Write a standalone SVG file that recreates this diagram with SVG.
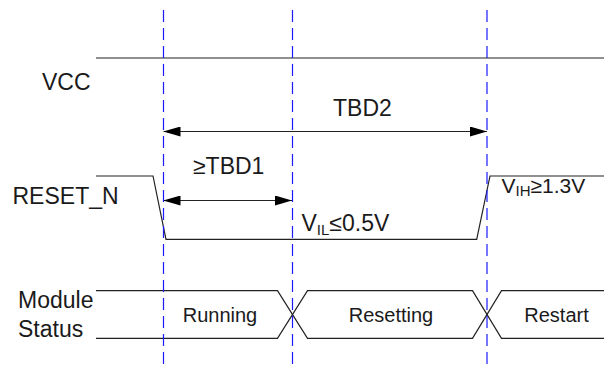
<svg xmlns="http://www.w3.org/2000/svg" width="604" height="367" viewBox="0 0 604 367">
<style>
.t{font-family:"Liberation Sans",Arial,sans-serif;font-size:23px;fill:#1a1a1a}
.s{font-size:20px}
.sub{font-size:15px}
.w{fill:none;stroke:#222;stroke-width:1.2}
.g{stroke:#1a1aff;stroke-width:1.2;stroke-dasharray:12 6;fill:none}
.a{stroke:#222;stroke-width:1.2;fill:none;marker-start:url(#ah);marker-end:url(#ah)}
</style>
<defs>
<marker id="ah" viewBox="0 0 17 10" refX="17" refY="5" markerWidth="17" markerHeight="10" markerUnits="userSpaceOnUse" orient="auto-start-reverse">
<path d="M0,0 L17,5 L0,10 Z" fill="#000"/>
</marker>
</defs>
<g id="vcc">
<line class="w" x1="96" y1="58" x2="604" y2="58" stroke="#555"/>
<text class="t" x="42" y="90">VCC</text>
</g>
<g id="reset_n">
<polyline class="w" points="96,176 153,176 166,239.3 476.7,239.3 490,176 604,176"/>
<text class="t" x="12.5" y="204">RESET_N</text>
<text class="t" x="301.5" y="231">V<tspan class="sub" dy="4">IL</tspan><tspan dy="-4">≤0.5V</tspan></text>
<text class="t" x="501.5" y="193" style="font-size:21px">V<tspan class="sub" dy="3">IH</tspan><tspan dy="-3">≥1.3V</tspan></text>
</g>
<g id="module_status">
<polyline class="w" points="96,290.7 277.5,290.7 307.5,338.3 472.5,338.3 501.5,290.7 604,290.7"/>
<polyline class="w" points="96,338.3 277.5,338.3 307.5,290.7 472.5,290.7 501.5,338.3 604,338.3"/>
<text class="t" x="18" y="308">Module</text>
<text class="t" x="18" y="337">Status</text>
<text class="t s" x="220" y="322" text-anchor="middle">Running</text>
<text class="t s" x="391" y="322" text-anchor="middle">Resetting</text>
<text class="t s" x="556.5" y="322" text-anchor="middle">Restart</text>
</g>
<g id="connectors">
<line class="a" x1="163.5" y1="131.5" x2="487" y2="131.5"/>
<text class="t" x="333" y="116">TBD2</text>
<line class="a" x1="163.5" y1="200.5" x2="292" y2="200.5"/>
<text class="t" x="193" y="174">≥TBD1</text>
</g>
<g id="guides">
<line class="g" x1="163.5" y1="10" x2="163.5" y2="367"/>
<line class="g" x1="292.5" y1="10" x2="292.5" y2="367"/>
<line class="g" x1="487" y1="10" x2="487" y2="367"/>
</g>
</svg>
